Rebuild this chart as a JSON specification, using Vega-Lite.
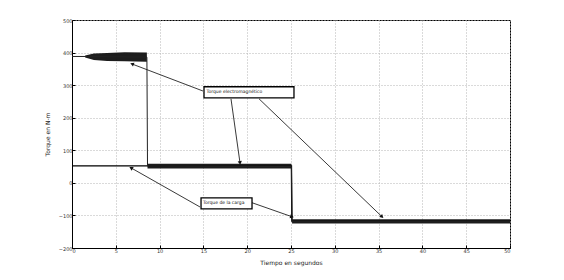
{
  "$schema": "https://vega.github.io/schema/vega-lite/v6.json",
  "width": 438,
  "height": 228,
  "autosize": {"type": "none"},
  "padding": {"left": 72, "top": 20, "right": 54, "bottom": 32},
  "background": "white",
  "config": {
    "view": {"stroke": "black", "strokeWidth": 1},
    "axis": {
      "labelFont": "DejaVu Sans",
      "labelFontSize": 5,
      "labelColor": "#333",
      "labelOverlap": false,
      "titleFont": "DejaVu Sans",
      "titleFontSize": 6,
      "titleFontWeight": "normal",
      "titleColor": "#222",
      "domainColor": "black",
      "tickColor": "black",
      "tickSize": -3,
      "gridColor": "#b5b5b5",
      "gridDash": [1, 2],
      "gridWidth": 1
    },
    "axisX": {"values": [0, 5, 10, 15, 20, 25, 30, 35, 40, 45, 50], "title": "Tiempo en segundos", "titlePadding": 6, "labelPadding": 3, "grid": true},
    "axisY": {"values": [-200, -100, 0, 100, 200, 300, 400, 500], "title": "Torque en N-m", "titlePadding": 8, "labelPadding": 3, "grid": true, "labelOverlap": false}
  },
  "datasets": {
    "em": [
      {"t": 0, "v": 388},
      {"t": 1.5, "v": 388},
      {"t": 8.55, "v": 386},
      {"t": 8.62, "v": 52},
      {"t": 25.05, "v": 50},
      {"t": 25.12, "v": -118},
      {"t": 50, "v": -118}
    ],
    "band": [
      {"seg": 1, "t": 1.5, "lo": 385, "hi": 391},
      {"seg": 1, "t": 2.5, "lo": 377, "hi": 397},
      {"seg": 1, "t": 4, "lo": 374, "hi": 399},
      {"seg": 1, "t": 6, "lo": 373, "hi": 401},
      {"seg": 1, "t": 8.55, "lo": 372, "hi": 400},
      {"seg": 2, "t": 8.62, "lo": 44, "hi": 59},
      {"seg": 2, "t": 25.05, "lo": 44, "hi": 59},
      {"seg": 3, "t": 25.12, "lo": -125, "hi": -112},
      {"seg": 3, "t": 50, "lo": -125, "hi": -112}
    ],
    "load": [
      {"t": 0, "v": 52},
      {"t": 25.05, "v": 52},
      {"t": 25.1, "v": -117},
      {"t": 50, "v": -117}
    ],
    "arrows": [
      {"t1": 14.95, "v1": 282, "t2": 6.85, "v2": 365},
      {"t1": 18.15, "v1": 258, "t2": 19.18, "v2": 61},
      {"t1": 21.35, "v1": 258, "t2": 35.39, "v2": -104},
      {"t1": 14.61, "v1": -74, "t2": 6.74, "v2": 46},
      {"t1": 20.55, "v1": -61, "t2": 25.11, "v2": -104}
    ],
    "boxes": [
      {"t1": 15.07, "t2": 25.34, "v1": 295, "v2": 261, "tt": 15.35, "tv": 278, "label": "Torque electromagnético"},
      {"t1": 14.73, "t2": 20.55, "v1": -46, "v2": -80, "tt": 14.95, "tv": -63, "label": "Torque de la carga"}
    ]
  },
  "layer": [
    {
      "data": {"name": "load"},
      "mark": {"type": "line", "color": "black", "strokeWidth": 1.4},
      "encoding": {
        "x": {"field": "t", "type": "quantitative", "scale": {"domain": [0, 50], "nice": false}, "title": "Tiempo en segundos"},
        "y": {"field": "v", "type": "quantitative", "scale": {"domain": [-200, 500], "nice": false}, "title": "Torque en N-m"}
      }
    },
    {
      "data": {"name": "band"},
      "mark": {"type": "area", "color": "#111", "opacity": 0.95},
      "encoding": {
        "x": {"field": "t", "type": "quantitative"},
        "y": {"field": "lo", "type": "quantitative"},
        "y2": {"field": "hi"},
        "detail": {"field": "seg"}
      }
    },
    {
      "data": {"name": "em"},
      "mark": {"type": "line", "color": "#222", "strokeWidth": 1},
      "encoding": {
        "x": {"field": "t", "type": "quantitative"},
        "y": {"field": "v", "type": "quantitative"}
      }
    },
    {
      "data": {"name": "arrows"},
      "mark": {"type": "rule", "color": "#222", "strokeWidth": 0.9},
      "encoding": {
        "x": {"field": "t1", "type": "quantitative"},
        "y": {"field": "v1", "type": "quantitative"},
        "x2": {"field": "t2"},
        "y2": {"field": "v2"}
      }
    },
    {
      "data": {"name": "arrows"},
      "transform": [
        {"calculate": "atan2(-(datum.v2 - datum.v1) * 228 / 700, (datum.t2 - datum.t1) * 438 / 50) * 180 / PI", "as": "ang"}
      ],
      "mark": {"type": "point", "shape": "triangle-right", "filled": true, "color": "#111", "size": 18, "opacity": 1},
      "encoding": {
        "x": {"field": "t2", "type": "quantitative"},
        "y": {"field": "v2", "type": "quantitative"},
        "angle": {"field": "ang", "type": "quantitative", "scale": null}
      }
    },
    {
      "data": {"name": "boxes"},
      "mark": {"type": "rect", "fill": "white", "stroke": "black", "strokeWidth": 1.3},
      "encoding": {
        "x": {"field": "t1", "type": "quantitative"},
        "x2": {"field": "t2"},
        "y": {"field": "v1", "type": "quantitative"},
        "y2": {"field": "v2"}
      }
    },
    {
      "data": {"name": "boxes"},
      "mark": {"type": "text", "align": "left", "baseline": "middle", "fontSize": 4.5, "font": "DejaVu Sans", "color": "#111"},
      "encoding": {
        "x": {"field": "tt", "type": "quantitative"},
        "y": {"field": "tv", "type": "quantitative"},
        "text": {"field": "label"}
      }
    }
  ]
}
